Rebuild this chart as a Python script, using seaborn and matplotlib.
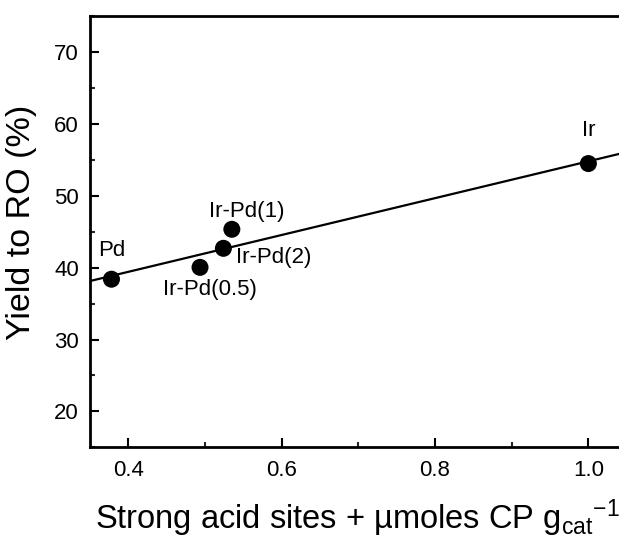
import matplotlib
matplotlib.use('Agg')
import matplotlib.pyplot as plt
import seaborn as sns
import pandas as pd
from matplotlib.ticker import MultipleLocator, FixedLocator

# ---- data ----
catalysts = ['Pd', 'Ir-Pd(0.5)', 'Ir-Pd(2)', 'Ir-Pd(1)', 'Ir']
acid_sites = [0.378, 0.4935, 0.524, 0.535, 1.0]
yield_ro = [38.4, 40.05, 42.7, 45.35, 54.5]
x_ticks = [0.4, 0.6, 0.8, 1.0]
y_ticks = [20, 30, 40, 50, 60, 70]

# label placement (offset in points, horizontal alignment)
label_offsets = {
    'Pd': ((0, 21), 'center'),
    'Ir-Pd(0.5)': ((7, -16), 'center'),
    'Ir-Pd(2)': ((9, -6.5), 'left'),
    'Ir-Pd(1)': ((11, 13), 'center'),
    'Ir': ((0, 24), 'center'),
}

sns.set_theme(style='ticks')
plt.rcParams['font.family'] = ['Liberation Sans', 'DejaVu Sans']
plt.rcParams['mathtext.fontset'] = 'custom'
plt.rcParams['mathtext.rm'] = 'Liberation Sans'
plt.rcParams['mathtext.it'] = 'Liberation Sans:italic'
plt.rcParams['mathtext.default'] = 'regular'

df = pd.DataFrame({'x': acid_sites, 'y': yield_ro, 'label': catalysts})

W, H = 619, 543
fig = plt.figure(figsize=(W / 100, H / 100), dpi=100)
fig.patch.set_facecolor('white')
ax = fig.add_axes([90 / W, (H - 447.3) / H, 536.7 / W, 431 / H])
ax.set_facecolor('white')
ax.set_xlim(0.35, 1.05)
ax.set_ylim(15, 75)

sns.regplot(data=df, x='x', y='y', ax=ax, ci=None, truncate=False,
            scatter_kws=dict(s=150, color='black', edgecolor='none', zorder=3, alpha=1),
            line_kws=dict(color='black', lw=1.6))

ax.set_xlim(0.35, 1.05)
ax.set_ylim(15, 75)

for xv, yv, lab in zip(acid_sites, yield_ro, catalysts):
    off, ha = label_offsets[lab]
    ax.annotate(lab, (xv, yv), xytext=off, textcoords='offset points',
                ha=ha, va='center', fontsize=16, color='black')

ax.xaxis.set_major_locator(FixedLocator(x_ticks))
ax.xaxis.set_minor_locator(MultipleLocator(0.1))
ax.yaxis.set_major_locator(FixedLocator(y_ticks))
ax.yaxis.set_minor_locator(MultipleLocator(5))
ax.set_xticklabels([f'{t:.1f}' for t in x_ticks])
ax.set_yticklabels([str(t) for t in y_ticks])

ax.tick_params(axis='both', which='major', direction='in', length=6.5, width=1.5,
               labelsize=16, colors='black')
ax.tick_params(axis='x', which='major', pad=9.5)
ax.tick_params(axis='y', which='major', pad=8)
ax.tick_params(axis='both', which='minor', direction='in', length=3.5, width=1.5)

for side in ['left', 'bottom', 'top']:
    ax.spines[side].set_visible(True)
    ax.spines[side].set_linewidth(2.0)
    ax.spines[side].set_color('black')
ax.spines['right'].set_visible(False)

ax.set_xlabel('Strong acid sites + µmoles CP g$_{cat}$$^{-1}$', fontsize=23.5,
              ha='left', va='baseline', color='black')
ax.xaxis.set_label_coords((95 - 90) / 536.7, (447.3 - 529.3) / 431)
ax.set_ylabel('Yield to RO (%)', fontsize=24.5, color='black')
ax.yaxis.set_label_coords((36.7 - 90) / 536.7, (447.3 - 222) / 431)

fig.savefig('out.png', dpi=100)
